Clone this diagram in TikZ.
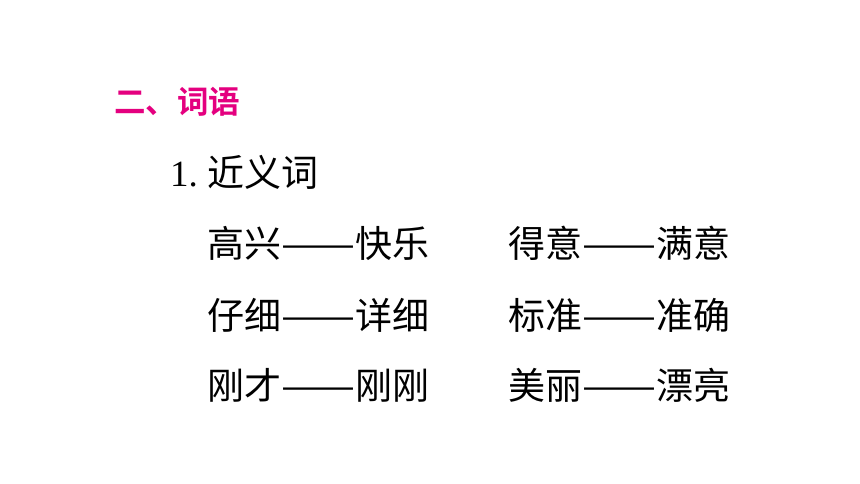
\documentclass[tikz,border=0pt]{standalone}
\usepackage{fontspec}
\usepackage{xcolor}
\usepackage{graphicx}
\setmainfont{Liberation Serif}
\newfontfamily\cjk{Noto Sans CJK SC}
\newfontfamily\cjkbold{Noto Sans CJK SC Bold}
\definecolor{titlemagenta}{HTML}{E4007F}
\newcommand{\longdash}{\resizebox{2em}{\height}{——}}

\begin{document}
\begin{tikzpicture}[x=1pt, y=-1pt,
    word/.style={anchor=base west, inner sep=0pt, font=\fontsize{37}{40}\selectfont\cjk}]
            \useasboundingbox (0,0) rectangle (860,484);
            % Heading
            \node (T) at (114, 114) [anchor=base west, inner sep=0pt, text=titlemagenta,
                font=\fontsize{31.5}{36}\selectfont\cjkbold] {二、词语};
            \node (S) at (170, 187) [anchor=base west, inner sep=0pt,
                font=\fontsize{37}{40}\selectfont] {\makebox[37pt][l]{1.}{\cjk 近义词}};
            
            % Left column
            \node (L1) at (207, 257) [word] {高兴\longdash 快乐};
            \node (L2) at (207, 329) [word] {仔细\longdash 详细};
            \node (L3) at (207, 399) [word] {刚才\longdash 刚刚};
            
            % Right column
            \node (R1) at (508, 257) [word] {得意\longdash 满意};
            \node (R2) at (508, 329) [word] {标准\longdash 准确};
            \node (R3) at (508, 399) [word] {美丽\longdash 漂亮};
        \end{tikzpicture}
\end{document}
